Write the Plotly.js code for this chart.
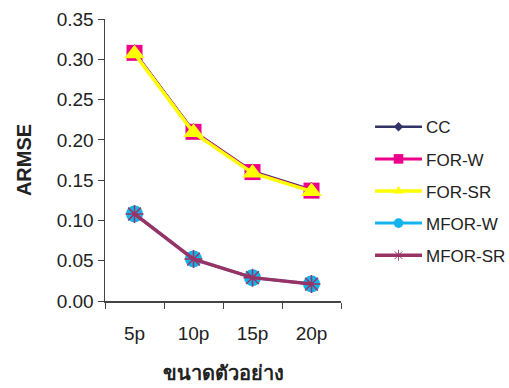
<!DOCTYPE html>
<html>
<head>
<meta charset="utf-8">
<script src="https://cdn.plot.ly/plotly-3.0.1.min.js"></script>
<style>html,body{margin:0;padding:0;background:#fff;}#chart{width:509px;height:388px;}</style>
</head>
<body>
<div id="chart"></div>
<script>
const categories = ["5p", "10p", "15p", "20p"];
const ccValues = [0.309, 0.211, 0.161, 0.138];
const forWValues = [0.308, 0.210, 0.160, 0.137];
const forSRValues = [0.307, 0.209, 0.159, 0.136];
const mforWValues = [0.108, 0.052, 0.029, 0.021];
const mforSRValues = [0.108, 0.052, 0.029, 0.021];
const seriesNames = ["CC", "FOR-W", "FOR-SR", "MFOR-W", "MFOR-SR"];
const yTickValues = [0, 0.05, 0.10, 0.15, 0.20, 0.25, 0.30, 0.35];
const yTickLabels = ["0.00", "0.05", "0.10", "0.15", "0.20", "0.25", "0.30", "0.35"];

function tr(name, y, color, lw, sym, size, mline, group) {
  return {
    type: "scatter", mode: "lines+markers", name: name,
    x: categories, y: y, legendgroup: group,
    line: {color: color, width: lw},
    marker: {symbol: sym, size: size, color: color, line: mline || {width: 0}}
  };
}
const data = [
  tr(seriesNames[0], ccValues, "#333366", 2.5, "diamond", 12, null, "g1"),
  tr(seriesNames[1], forWValues, "#EC008C", 3, "square", 16, null, "g2"),
  tr(seriesNames[2], forSRValues, "#FFFF00", 3.5, "triangle-up", 18, null, "g3"),
  tr(seriesNames[3], mforWValues, "#12B4EB", 3, "circle", 17, null, "g4"),
  tr(seriesNames[4], mforSRValues, "#993366", 3.5, "asterisk-open", 15, {color: "#993366", width: 1.5}, "g5")
];
const layout = {
  width: 509, height: 388,
  margin: {l: 105, r: 168, t: 19, b: 87},
  paper_bgcolor: "#fff", plot_bgcolor: "#fff",
  font: {family: "Arial, 'Liberation Sans', sans-serif", color: "#222"},
  showlegend: true,
  legend: {
    xref: "container", x: 0.727, y: 0.68, xanchor: "left", yanchor: "top",
    font: {size: 17, color: "#222"},
    traceorder: "grouped", tracegroupgap: 7,
    bgcolor: "rgba(0,0,0,0)"
  },
  xaxis: {
    type: "category", range: [-0.5, 3.5],
    showline: true, linecolor: "#444", linewidth: 1.5,
    ticks: "outside", tickson: "boundaries", ticklen: 6, tickcolor: "#444",
    showgrid: false, zeroline: false,
    tickfont: {size: 19}, ticklabelstandoff: 15,
    title: {text: "ขนาดตัวอย่าง", font: {size: 20, weight: "bold"}, standoff: 22}
  },
  yaxis: {
    range: [0, 0.35],
    tickvals: yTickValues, ticktext: yTickLabels,
    showline: true, linecolor: "#444", linewidth: 1.5,
    ticks: "outside", ticklen: 6, tickcolor: "#444",
    showgrid: false, zeroline: false,
    tickfont: {size: 19},
    title: {text: "ARMSE", font: {size: 20, weight: "bold"}, standoff: 19}
  }
};
Plotly.newPlot("chart", data, layout, {displayModeBar: false, staticPlot: true}).then(function (gd) {
  // lengthen legend lines, shrink legend markers and shift texts, as in the reference
  gd.querySelectorAll(".legend [clip-path]").forEach(function (el) {
    el.removeAttribute("clip-path");
  });
  gd.querySelectorAll(".legend .legendlines path").forEach(function (p) {
    p.setAttribute("d", "M5,0h47");
  });
  gd.querySelectorAll(".legend .legendpoints path").forEach(function (p) {
    p.setAttribute("transform", "translate(28.5,0) scale(0.6)");
  });
  gd.querySelectorAll(".legend text.legendtext").forEach(function (t) {
    t.setAttribute("x", "56");
  });
});
</script>
</body>
</html>
